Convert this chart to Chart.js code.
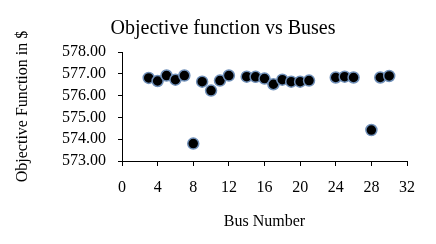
<!DOCTYPE html>
<html>
<head>
<meta charset="utf-8">
<script src="https://cdn.jsdelivr.net/npm/chart.js@4"></script>
<style>
  html, body { margin: 0; padding: 0; background: #fff; }
  #wrap { width: 436px; height: 244px; }
</style>
</head>
<body>
<div id="wrap"><canvas id="chart" width="436" height="244"></canvas></div>
<script>
// Data
const buses = [3, 4, 5, 6, 7, 8, 9, 10, 11, 12, 14, 15, 16, 17, 18, 19, 20, 21, 24, 25, 26, 28, 29, 30];
const objective = [576.81, 576.67, 576.92, 576.73, 576.92, 573.80, 576.64, 576.23, 576.69, 576.92,
                   576.87, 576.86, 576.78, 576.52, 576.73, 576.64, 576.64, 576.69,
                   576.83, 576.87, 576.83, 574.42, 576.83, 576.90];
const xTicks = [0, 4, 8, 12, 16, 20, 24, 28, 32];
const yTicks = [573, 574, 575, 576, 577, 578];

const serif = "'Liberation Serif', 'Times New Roman', serif";
Chart.defaults.font.family = serif;
Chart.defaults.color = '#000';

const points = buses.map((b, i) => ({ x: b, y: objective[i] }));

new Chart(document.getElementById('chart').getContext('2d'), {
    type: 'scatter',
    data: {
        datasets: [{
            data: points,
            pointRadius: 5.5,
            pointHoverRadius: 5.5,
            pointBackgroundColor: '#000',
            pointBorderColor: '#6f8fb8',
            pointBorderWidth: 1.5
        }]
    },
    options: {
        responsive: false,
        animation: false,
        // left/right padding keep the title centred like the original
        layout: { padding: { left: 39, right: 29, top: 0, bottom: 0 } },
        plugins: {
            legend: { display: false },
            tooltip: { enabled: false },
            title: {
                display: true,
                text: 'Objective function vs Buses',
                font: { size: 20, weight: 'normal', family: serif },
                color: '#000',
                padding: { top: 17, bottom: 11 }
            }
        },
        scales: {
            x: {
                type: 'linear',
                min: xTicks[0],
                max: xTicks[xTicks.length - 1],
                afterBuildTicks: (scale) => { scale.ticks = xTicks.map(v => ({ value: v })); },
                afterFit: (scale) => { scale.height = 83; },
                ticks: { font: { size: 16 }, padding: 12, maxRotation: 0, autoSkip: false, color: '#000' },
                grid: { drawOnChartArea: false, drawTicks: true, tickLength: 5, color: '#000' },
                border: { color: '#000', width: 1 },
                title: {
                    display: true,
                    text: 'Bus Number',
                    font: { size: 16 },
                    color: '#000',
                    padding: { top: 0, bottom: 13 }
                }
            },
            y: {
                min: yTicks[0],
                max: yTicks[yTicks.length - 1],
                afterBuildTicks: (scale) => { scale.ticks = yTicks.map(v => ({ value: v })); },
                afterFit: (scale) => { scale.width = 83; },
                ticks: {
                    font: { size: 16 },
                    padding: 12,
                    autoSkip: false,
                    color: '#000',
                    callback: (v) => Number(v).toFixed(2)
                },
                grid: { drawOnChartArea: false, drawTicks: true, tickLength: 4, color: '#000' },
                border: { color: '#000', width: 1 },
                title: {
                    display: true,
                    text: 'Objective Function in $',
                    font: { size: 16 },
                    color: '#000',
                    padding: { top: -26, bottom: 0 }
                }
            }
        }
    }
});
</script>
</body>
</html>
